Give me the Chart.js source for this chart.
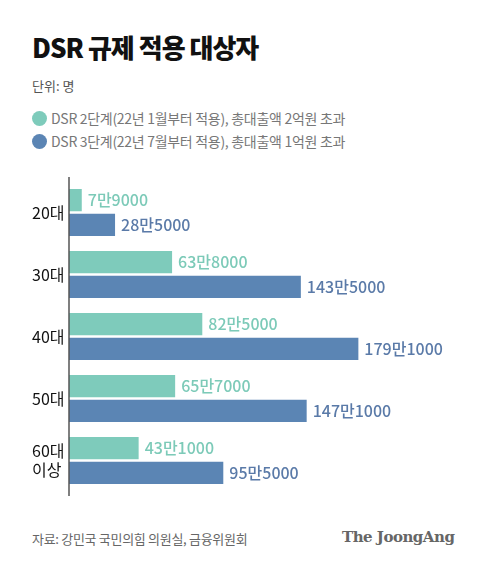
<!DOCTYPE html>
<html>
<head>
<meta charset="utf-8">
<script src="https://cdn.jsdelivr.net/npm/chart.js@4"></script>
<style>
  body { margin:0; background:#fff; font-family:"Noto Sans CJK KR","Noto Sans",sans-serif; }
  #wrap { position:relative; width:480px; height:567px; overflow:hidden; }
  .t { position:absolute; left:32px; white-space:nowrap; }
  #title { top:28px; font-size:26px; font-weight:900; color:#111; letter-spacing:-1px; }
  #unit { top:76px; font-size:13px; color:#555; }
  .leg { font-size:14px; color:#777; letter-spacing:-0.3px; }
  .dot { display:inline-block; width:15px; height:15px; border-radius:50%; vertical-align:-2px; margin-right:4px; }
  #src { top:529px; font-size:13px; color:#666; letter-spacing:-0.3px; }
  #logo { position:absolute; left:342px; top:528px; font-family:"DejaVu Serif","Liberation Serif",serif; font-weight:bold; font-size:15px; color:#666; letter-spacing:-0.5px; }
  #box { position:absolute; left:0; top:176px; width:480px; height:320px; }
</style>
</head>
<body>
<div id="wrap">
  <div class="t" id="title">DSR 규제 적용 대상자</div>
  <div class="t" id="unit">단위: 명</div>
  <div class="t leg" style="top:108px"><span class="dot" style="background:#7ecbbb"></span>DSR 2단계(22년 1월부터 적용), 총대출액 2억원 초과</div>
  <div class="t leg" style="top:131px"><span class="dot" style="background:#5b85b4"></span>DSR 3단계(22년 7월부터 적용), 총대출액 1억원 초과</div>
  <div id="box"><canvas id="canvas"></canvas></div>
  <div class="t" id="src">자료: 강민국 국민의힘 의원실, 금융위원회</div>
  <div id="logo">The JoongAng</div>
</div>
<script>
var ages = [['20대'], ['30대'], ['40대'], ['50대'], ['60대', '이상']];
var stage2 = [79000, 638000, 825000, 657000, 431000];
var stage3 = [285000, 1435000, 1791000, 1471000, 955000];

// 7만9000 style
function fmt(v) {
  return Math.floor(v / 10000) + '만' + String(v % 10000).padStart(4, '0');
}

var labelColors = ['#7ccab8', '#5a7aa8'];

var valueLabels = {
  id: 'valueLabels',
  afterDatasetsDraw: function(chart) {
    var ctx = chart.ctx;
    ctx.save();
    ctx.font = '500 16px "Noto Sans CJK KR", sans-serif';
    ctx.textBaseline = 'middle';
    ctx.textAlign = 'left';
    chart.data.datasets.forEach(function(ds, i) {
      ctx.fillStyle = labelColors[i];
      chart.getDatasetMeta(i).data.forEach(function(bar, j) {
        ctx.fillText(fmt(ds.data[j]), bar.x + 6, bar.y);
      });
    });
    ctx.restore();
  }
};

// axis line runs a bit past the bars
var axisLine = {
  id: 'axisLine',
  afterDraw: function(chart) {
    var ctx = chart.ctx;
    var x = chart.chartArea.left;
    ctx.save();
    ctx.strokeStyle = '#555';
    ctx.lineWidth = 1.5;
    ctx.beginPath();
    ctx.moveTo(x, 1);
    ctx.lineTo(x, chart.height);
    ctx.stroke();
    ctx.restore();
  }
};

var ctx = document.getElementById('canvas').getContext('2d');
new Chart(ctx, {
  type: 'bar',
  data: {
    labels: ages,
    datasets: [{
      label: 'DSR 2단계',
      data: stage2,
      backgroundColor: '#7ecbbb',
      categoryPercentage: 0.8,
      barPercentage: 0.89
    }, {
      label: 'DSR 3단계',
      data: stage3,
      backgroundColor: '#5b85b4',
      categoryPercentage: 0.8,
      barPercentage: 0.89
    }]
  },
  options: {
    indexAxis: 'y',
    responsive: true,
    maintainAspectRatio: false,
    animation: false,
    layout: { padding: { left: 32, right: 20, top: 5.5, bottom: 4.5 } },
    plugins: { legend: { display: false }, tooltip: { enabled: false } },
    scales: {
      x: { display: false, min: 0, max: 2420000 },
      y: {
        grid: { display: false },
        border: { display: false },
        afterFit: function(scale) {
          scale.width = 37;
          scale.paddingTop = 0;
          scale.paddingBottom = 0;
        },
        ticks: {
          crossAlign: 'far',
          color: '#111',
          font: { size: 16, family: '"Noto Sans CJK KR", sans-serif' },
          padding: 0
        }
      }
    }
  },
  plugins: [valueLabels, axisLine]
});
</script>
</body>
</html>
